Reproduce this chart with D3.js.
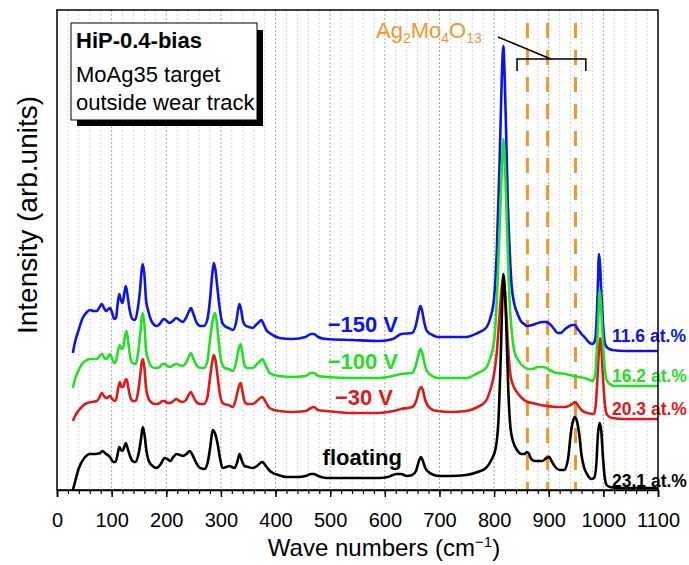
<!DOCTYPE html>
<html>
<head>
<meta charset="utf-8">
<script src="https://cdn.jsdelivr.net/npm/d3@7"></script>
<style>
  html, body { margin: 0; padding: 0; background: #fff; }
  svg { display: block; }
  text { font-family: "Liberation Sans", Arial, sans-serif; }
</style>
</head>
<body>
<svg id="chart" width="689" height="565"></svg>
<script>
// Raman spectra, HiP-0.4-bias coatings (wave number, stacked intensity)
const floating = [[29,0],[33,8],[40,22],[50,32],[60,36],[70,36],[79,37],[83,39],[90,36],[97,33],[103,28],[107,28],[111,36],[114,43],[117,40],[120,39],[123,43],[126,47],[129,42],[133,35],[138,29],[143,28],[150,38],[154,52],[157,63],[160,56],[164,38],[168,29],[175,24],[182,22],[190,26],[197,32],[202,31],[207,29],[213,33],[219,36],[225,35],[231,34],[237,36],[243,39],[248,35],[255,27],[262,22],[270,21],[276,28],[281,45],[285,60],[289,57],[294,46],[299,30],[303,22],[310,23],[316,24],[320,23],[325,22],[330,28],[334,36],[338,30],[343,24],[350,23],[358,22],[366,24],[372,27],[376,28],[381,25],[388,20],[395,17],[405,15],[420,13],[440,13],[455,14],[465,16],[470,16],[478,14],[493,12],[520,12],[554,12],[590,12],[605,13],[615,15],[621,16],[630,16],[640,14],[650,15],[657,19],[663,30],[666,33],[669,30],[674,22],[680,18],[690,15],[700,14],[720,14],[749,15],[770,18],[785,22],[795,30],[803,42],[808,70],[812,130],[815,190],[817,216],[819,205],[822,170],[826,100],[830,62],[835,48],[842,40],[850,36],[856,36],[860,38],[864,36],[868,31],[875,29],[888,29],[896,32],[901,33],[905,29],[912,23],[920,20],[928,20],[935,30],[941,59],[945,70],[948,73],[951,70],[956,55],[960,35],[965,22],[970,16],[978,11],[983,12],[987,25],[990,55],[993,67],[996,60],[999,35],[1002,15],[1006,5],[1012,3],[1030,2],[1060,2],[1100,2]];

const bias30 = [[29,69],[33,74],[39,79],[47,84],[55,87],[63,88],[73,89],[78,93],[82,97],[86,94],[90,92],[94,93],[97,94],[101,91],[106,89],[109,92],[112,102],[115,108],[118,103],[121,103],[124,108],[127,111],[130,104],[134,93],[139,89],[144,89],[149,100],[153,118],[155,127],[157,131],[160,122],[163,102],[167,92],[172,88],[178,86],[182,86],[188,87],[193,89],[197,89],[202,87],[207,87],[213,89],[218,91],[224,89],[230,88],[236,90],[241,95],[245,98],[249,94],[255,88],[262,86],[269,86],[275,92],[280,112],[284,128],[287,135],[290,130],[294,113],[299,93],[305,86],[314,85],[322,83],[328,92],[332,102],[336,107],[339,100],[343,89],[348,86],[358,86],[366,89],[372,92],[376,93],[380,90],[385,85],[389,82],[398,80],[407,79],[430,78],[455,79],[465,82],[470,83],[478,80],[493,79],[540,77],[590,77],[615,79],[630,81],[650,83],[658,90],[663,100],[667,103],[670,99],[674,90],[679,84],[688,80],[697,79],[720,78],[749,79],[770,83],[785,89],[793,100],[800,116],[805,138],[810,175],[814,203],[817,212],[819,204],[822,180],[826,140],[830,115],[834,106],[837,102],[843,97],[849,93],[855,90],[862,88],[870,87],[885,85],[898,84],[915,83],[930,83],[940,85],[945,87],[948,88],[953,85],[960,80],[970,77],[983,76],[986,85],[989,110],[992,140],[994,152],[996,145],[999,115],[1003,85],[1007,75],[1016,72],[1040,71],[1070,71],[1100,71]];

const bias100 = [[29,102],[33,111],[39,119],[47,127],[55,130],[60,131],[67,131],[73,131],[78,134],[82,136],[86,133],[90,131],[94,134],[97,136],[101,131],[105,127],[108,129],[112,140],[115,145],[118,141],[121,142],[124,152],[127,159],[130,150],[134,133],[138,127],[144,126],[149,140],[153,160],[155,172],[157,177],[160,165],[163,140],[167,130],[172,124],[178,122],[182,122],[188,123],[193,126],[197,126],[202,124],[207,123],[213,125],[218,126],[224,125],[230,124],[236,127],[241,133],[245,137],[249,132],[255,125],[262,122],[269,122],[275,128],[280,150],[285,170],[289,177],[292,170],[296,148],[301,128],[307,122],[314,121],[322,119],[328,128],[332,140],[336,146],[339,138],[343,125],[348,122],[358,122],[366,126],[372,129],[376,131],[380,127],[385,121],[389,117],[398,115],[407,114],[430,113],[455,114],[465,117],[470,117],[478,114],[493,113],[540,112],[590,112],[615,114],[630,116],[650,117],[657,125],[662,136],[665,141],[668,138],[672,128],[677,119],[687,114],[697,112],[720,112],[749,112],[770,117],[785,122],[793,132],[800,149],[805,190],[810,259],[814,320],[817,351],[819,335],[822,292],[825,240],[828,192],[832,160],[837,139],[843,131],[849,126],[855,123],[862,121],[870,121],[880,123],[888,123],[896,122],[905,119],[915,117],[931,116],[945,114],[955,113],[965,112],[975,110],[980,109],[985,115],[988,140],[991,175],[993,200],[995,190],[998,160],[1002,125],[1006,110],[1012,106],[1020,104],[1050,104],[1100,104]];

const bias150 = [[29,137],[33,148],[39,159],[47,172],[55,178],[60,180],[67,179],[73,179],[78,183],[82,186],[86,182],[90,179],[94,181],[97,182],[101,177],[105,171],[108,172],[111,186],[114,196],[117,190],[120,187],[123,196],[126,204],[129,195],[133,180],[138,171],[143,170],[148,182],[152,200],[155,220],[157,226],[160,215],[163,190],[167,179],[172,170],[178,165],[182,164],[188,166],[193,170],[196,171],[201,169],[206,167],[212,169],[218,172],[224,170],[230,168],[236,172],[241,178],[245,182],[249,177],[255,168],[262,164],[269,164],[275,170],[280,190],[284,215],[287,227],[290,220],[293,205],[297,185],[302,168],[307,164],[314,162],[322,160],[328,168],[332,182],[334,186],[337,180],[341,168],[346,164],[352,163],[358,162],[364,165],[370,168],[374,170],[378,166],[383,160],[389,157],[398,154],[407,152],[430,151],[455,153],[465,156],[470,156],[478,153],[493,151],[540,150],[590,149],[615,151],[630,156],[650,157],[657,165],[662,178],[665,184],[668,180],[672,168],[677,159],[687,155],[697,153],[720,153],[749,153],[770,157],[785,162],[793,172],[800,192],[805,240],[810,326],[814,410],[817,444],[819,420],[822,359],[825,290],[828,246],[832,205],[837,186],[843,176],[849,169],[855,166],[860,164],[870,165],[880,167],[888,168],[895,168],[902,166],[910,161],[916,157],[922,157],[930,161],[938,164],[944,165],[948,165],[953,161],[960,156],[967,152],[973,148],[980,146],[985,150],[988,175],[990,205],[992,236],[994,225],[996,200],[999,170],[1003,146],[1008,142],[1016,140],[1040,139],[1070,139],[1100,139]];

// Series (label order), and the order the curves are stacked on the page
const seriesNames  = ["−150 V", "−100 V", "−30 V", "floating"];
const seriesData   = [bias150, bias100, bias30, floating];
const seriesColors = ["#0a14f0", "#22e022", "#e01818", "#000000"];
const agContent    = ["11.6 at.%", "16.2 at.%", "20.3 at.%", "23.1 at.%"];
const drawOrder    = [2, 0, 1, 3];

// Ag2Mo4O13 band positions (cm-1)
const agMoBands = [861, 898, 949];

const xMajorTicks = d3.range(0, 1101, 100);
const xMinorTicks = d3.range(0, 1101, 20);

const svg = d3.select("#chart");
const plot = { left: 57, right: 658, top: 10, bottom: 490 };

const x = d3.scaleLinear().domain([0, 1100]).range([plot.left, plot.right]);
const y = d3.scaleLinear().domain([0, 480]).range([plot.bottom, plot.top]);

// grid
svg.append("g").selectAll("line")
  .data(xMinorTicks.filter(v => v % 100 !== 0))
  .join("line")
  .attr("x1", d => x(d)).attr("x2", d => x(d))
  .attr("y1", plot.top).attr("y2", plot.bottom)
  .attr("stroke", "#d4d4d4").attr("stroke-width", 1)
  .attr("stroke-dasharray", "2,2");
svg.append("g").selectAll("line")
  .data(xMajorTicks.filter(v => v > 0 && v < 1100))
  .join("line")
  .attr("x1", d => x(d)).attr("x2", d => x(d))
  .attr("y1", plot.top).attr("y2", plot.bottom)
  .attr("stroke", "#a8a8a8").attr("stroke-width", 1)
  .attr("stroke-dasharray", "2,2");

// Ag2Mo4O13 dashed markers
svg.append("g").selectAll("line")
  .data(agMoBands)
  .join("line")
  .attr("x1", d => x(d)).attr("x2", d => x(d))
  .attr("y1", 23).attr("y2", plot.bottom)
  .attr("stroke", "#f0962e").attr("stroke-width", 3)
  .attr("stroke-dasharray", "15,12");

// spectra
const line = d3.line()
  .x(d => x(d[0])).y(d => y(d[1]))
  .curve(d3.curveMonotoneX);

svg.append("g").selectAll("path")
  .data(drawOrder)
  .join("path")
  .attr("d", i => line(seriesData[i]))
  .attr("fill", "none")
  .attr("stroke", i => seriesColors[i])
  .attr("stroke-width", 2.6)
  .attr("stroke-linejoin", "round");

// bias labels
const biasLabelPos = [[398, 332], [398, 369], [393, 405], [402, 465]];
svg.append("g").selectAll("text")
  .data(seriesNames)
  .join("text")
  .attr("x", (d, i) => biasLabelPos[i][0])
  .attr("y", (d, i) => biasLabelPos[i][1])
  .attr("text-anchor", "end")
  .attr("font-size", 22).attr("font-weight", "bold")
  .attr("fill", (d, i) => seriesColors[i])
  .text(d => d);

// Ag content labels at the right end
const agBaselines = [342, 382, 415, 487];
svg.append("g").selectAll("text")
  .data(agContent)
  .join("text")
  .attr("x", 612)
  .attr("y", (d, i) => agBaselines[i])
  .attr("font-size", 17.5).attr("font-weight", "bold")
  .attr("fill", (d, i) => seriesColors[i])
  .text(d => d);

// bracket annotation
const ann = svg.append("g").attr("stroke", "#000").attr("stroke-width", 1.5).attr("fill", "none");
ann.append("path").attr("d", `M${x(842)},71 V59 H${x(968)} V71`);
ann.append("line").attr("x1", x(807)).attr("y1", 37).attr("x2", x(904)).attr("y2", 59);

const ag = svg.append("text").attr("x", 376).attr("y", 38)
  .attr("font-size", 22).attr("fill", "#f0962e");
[["Ag", false], ["2", true], ["Mo", false], ["4", true], ["O", false], ["13", true]].forEach(([t, sub]) => {
  const ts = ag.append("tspan").text(t);
  if (sub) ts.attr("font-size", 14).attr("dy", 5);
  else ts.attr("dy", t === "Ag" ? 0 : -5);
});

// frame
svg.append("rect")
  .attr("x", plot.left).attr("y", plot.top)
  .attr("width", plot.right - plot.left).attr("height", plot.bottom - plot.top)
  .attr("fill", "none").attr("stroke", "#000").attr("stroke-width", 1.5);

// x axis
const axMinor = d3.axisBottom(x).tickValues(xMinorTicks).tickSize(4).tickFormat("");
svg.append("g").attr("transform", `translate(0,${plot.bottom})`).call(axMinor)
  .call(g => g.select(".domain").remove())
  .selectAll("line").attr("stroke-width", 1.2);
const axMajor = d3.axisBottom(x).tickValues(xMajorTicks).tickSize(7).tickPadding(16)
  .tickFormat(d3.format("d"));
svg.append("g").attr("transform", `translate(0,${plot.bottom})`).call(axMajor)
  .call(g => g.select(".domain").attr("stroke-width", 1.5))
  .call(g => g.selectAll("line").attr("stroke-width", 1.5))
  .call(g => g.selectAll("text").attr("font-size", 20).attr("fill", "#000")
    .attr("font-family", "Liberation Sans, Arial, sans-serif"));

// axis titles
const xt = svg.append("text").attr("x", 384).attr("y", 556)
  .attr("text-anchor", "middle").attr("font-size", 24);
xt.append("tspan").text("Wave numbers (cm");
xt.append("tspan").text("−1").attr("font-size", 15).attr("dy", -9);
xt.append("tspan").text(")").attr("dy", 9);

svg.append("text")
  .attr("transform", "translate(37,215) rotate(-90)")
  .attr("text-anchor", "middle").attr("font-size", 28)
  .text("Intensity (arb.units)");

// sample box with drop shadow
svg.append("rect").attr("x", 77).attr("y", 30).attr("width", 186).attr("height", 96).attr("fill", "#000");
svg.append("rect").attr("x", 71).attr("y", 23).attr("width", 186).attr("height", 97)
  .attr("fill", "#fff").attr("stroke", "#000").attr("stroke-width", 1);
svg.append("text").attr("x", 76).attr("y", 48).attr("font-size", 22).attr("font-weight", "bold").text("HiP-0.4-bias");
svg.append("text").attr("x", 76).attr("y", 82).attr("font-size", 22).text("MoAg35 target");
svg.append("text").attr("x", 76).attr("y", 110).attr("font-size", 22).text("outside wear track");
</script>
</body>
</html>
